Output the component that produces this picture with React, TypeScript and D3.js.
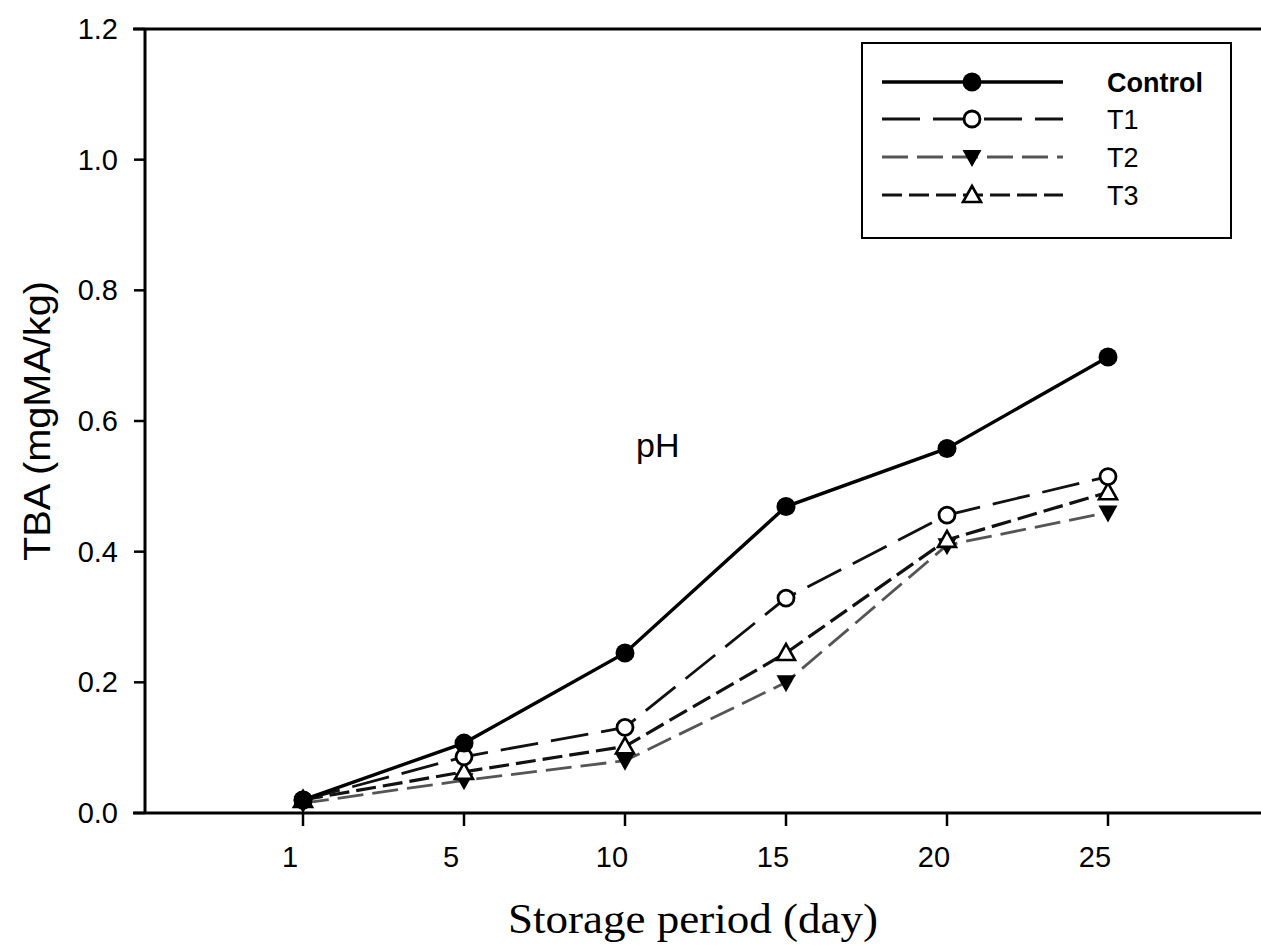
import React from "react";
import * as d3 from "d3";

const days = ["1", "5", "10", "15", "20", "25"];
const control = [0.02, 0.107, 0.245, 0.469, 0.558, 0.698];
const t1 = [0.02, 0.086, 0.131, 0.329, 0.456, 0.515];
const t2 = [0.015, 0.05, 0.08, 0.2, 0.41, 0.46];
const t3 = [0.02, 0.063, 0.102, 0.245, 0.418, 0.491];
const yTicks = [0, 0.2, 0.4, 0.6, 0.8, 1.0, 1.2];
const seriesNames = ["Control", "T1", "T2", "T3"];

const W = 1261;
const H = 950;
const left = 145;
const right = 1275;
const top = 29;
const bottom = 813;

const x = d3.scaleLinear().domain([0, days.length - 1]).range([303, 1108]);
const y = d3.scaleLinear().domain([0, 1.2]).range([bottom, top]);

type Style = {
  values: number[];
  stroke: string;
  width: number;
  dash: string | undefined;
  marker: "fcircle" | "ocircle" | "dtri" | "utri";
};

const styles: Style[] = [
  { values: control, stroke: "#000", width: 3.4, dash: undefined, marker: "fcircle" },
  { values: t1, stroke: "#111", width: 2.8, dash: "38 13", marker: "ocircle" },
  { values: t2, stroke: "#555", width: 2.8, dash: "26 9", marker: "dtri" },
  { values: t3, stroke: "#111", width: 3.2, dash: "20 7", marker: "utri" },
];

function Marker({ kind, cx, cy }: { kind: Style["marker"]; cx: number; cy: number }) {
  if (kind === "fcircle") return <circle cx={cx} cy={cy} r={9.5} fill="#000" />;
  if (kind === "ocircle")
    return <circle cx={cx} cy={cy} r={8} fill="#fff" stroke="#000" strokeWidth={2.8} />;
  if (kind === "dtri")
    return (
      <path
        d={`M${cx - 9.5},${cy - 7} L${cx + 9.5},${cy - 7} L${cx},${cy + 10} Z`}
        fill="#000"
      />
    );
  return (
    <path
      d={`M${cx - 9},${cy + 7} L${cx + 9},${cy + 7} L${cx},${cy - 9} Z`}
      fill="#fff"
      stroke="#000"
      strokeWidth={2.6}
      strokeLinejoin="miter"
    />
  );
}

export default function App() {
  const line = d3
    .line<number>()
    .x((_, i) => x(i))
    .y((d) => y(d));
  const drawOrder = [2, 3, 1, 0];
  const legendRows = [82, 119, 157, 195];
  return (
    <svg
      width={W}
      height={H}
      style={{ position: "absolute", left: 0, top: 0, background: "#fff" }}
      fontFamily="Arial, 'Liberation Sans', sans-serif"
    >
      <rect x={0} y={0} width={W} height={H} fill="#fff" />
      {/* frame */}
      <line x1={left - 12} x2={right} y1={top} y2={top} stroke="#000" strokeWidth={3} />
      <line x1={left} x2={left} y1={top} y2={bottom + 1} stroke="#000" strokeWidth={3} />
      <line x1={left - 12} x2={right} y1={bottom} y2={bottom} stroke="#000" strokeWidth={3} />
      {/* y ticks */}
      {yTicks.map((t) => (
        <g key={t}>
          <line x1={left - 11} x2={left} y1={y(t)} y2={y(t)} stroke="#000" strokeWidth={2.5} />
          <text x={118} y={y(t) + 10} textAnchor="end" fontSize={29} fill="#000">
            {t.toFixed(1)}
          </text>
        </g>
      ))}
      {/* x ticks */}
      {days.map((d, i) => (
        <g key={d}>
          <line x1={x(i)} x2={x(i)} y1={bottom} y2={bottom + 13} stroke="#000" strokeWidth={2.5} />
          <text x={x(i) - 13} y={867} textAnchor="middle" fontSize={29} fill="#000">
            {d}
          </text>
        </g>
      ))}
      {/* axis titles */}
      <text
        x={693}
        y={933}
        textAnchor="middle"
        fontFamily="'Liberation Serif', 'Times New Roman', serif"
        fontSize={42}
        textLength={370}
        lengthAdjust="spacingAndGlyphs"
        fill="#000"
      >
        Storage period (day)
      </text>
      <text
        transform="translate(50,421) rotate(-90)"
        textAnchor="middle"
        fontSize={36}
        textLength={280}
        lengthAdjust="spacingAndGlyphs"
        fill="#000"
      >
        TBA (mgMA/kg)
      </text>
      <text x={636} y={457} fontSize={34} fill="#000">
        pH
      </text>
      {/* series */}
      {drawOrder.map((si) => {
        const s = styles[si];
        return (
          <g key={si}>
            <path
              d={line(s.values) || ""}
              fill="none"
              stroke={s.stroke}
              strokeWidth={s.width}
              strokeDasharray={s.dash}
            />
            {s.values.map((v, i) => (
              <Marker key={i} kind={s.marker} cx={x(i)} cy={y(v)} />
            ))}
          </g>
        );
      })}
      {/* legend */}
      <rect x={862} y={43} width={369} height={195} fill="#fff" stroke="#000" strokeWidth={2} />
      {styles.map((s, i) => (
        <g key={i}>
          <line
            x1={882}
            x2={1063}
            y1={legendRows[i]}
            y2={legendRows[i]}
            stroke={s.stroke}
            strokeWidth={s.width}
            strokeDasharray={s.dash}
          />
          <Marker kind={s.marker} cx={972} cy={legendRows[i]} />
          <text
            x={1107}
            y={legendRows[i] + 10}
            fontSize={27}
            fontWeight={i === 0 ? "bold" : "normal"}
            fill="#000"
          >
            {seriesNames[i]}
          </text>
        </g>
      ))}
    </svg>
  );
}
